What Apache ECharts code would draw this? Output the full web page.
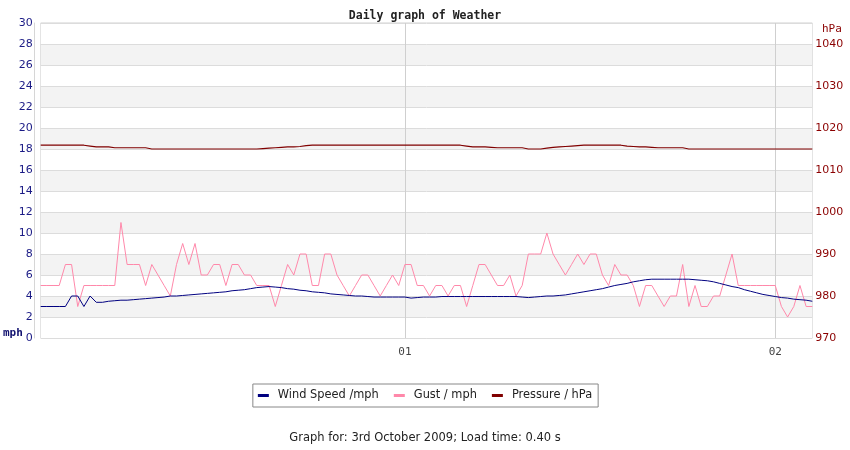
<!DOCTYPE html>
<html>
<head>
<meta charset="utf-8">
<script src="https://cdn.jsdelivr.net/npm/echarts@6/dist/echarts.min.js"></script>
<style>
  html, body { margin: 0; padding: 0; background: #fff; }
  #chart { width: 850px; height: 450px; }
</style>
</head>
<body>
<div id="chart"></div>
<script>
// ---- data (one reading per minute, first reading at minute 1) ----
const startMinute = 1;

const windSpeed = [
  3, 3, 3, 3, 3, 4, 4, 3, 4, 3.4,
  3.4, 3.5, 3.55, 3.6, 3.6, 3.65, 3.7, 3.75, 3.8, 3.85,
  3.9, 4.0, 4.0, 4.05, 4.1, 4.15, 4.2, 4.25, 4.3, 4.35,
  4.4, 4.5, 4.55, 4.6, 4.7, 4.8, 4.85, 4.9, 4.85, 4.8,
  4.7, 4.65, 4.55, 4.5, 4.4, 4.35, 4.3, 4.2, 4.15, 4.1,
  4.05, 4.0, 4.0, 3.95, 3.9, 3.9, 3.9, 3.9, 3.9, 3.9,
  3.8, 3.85, 3.9, 3.9, 3.9, 3.95, 3.95, 3.95, 3.95, 3.95,
  3.95, 3.95, 3.95, 3.95, 3.95, 3.95, 3.95, 3.95, 3.9, 3.85,
  3.9, 3.95, 4.0, 4.0, 4.05, 4.1, 4.2, 4.3, 4.4, 4.5,
  4.6, 4.7, 4.85, 5.0, 5.1, 5.2, 5.35, 5.45, 5.55, 5.6,
  5.6, 5.6, 5.6, 5.6, 5.6, 5.6, 5.55, 5.5, 5.45, 5.35,
  5.2, 5.05, 4.9, 4.8, 4.6, 4.45, 4.3, 4.15, 4.05, 3.95,
  3.85, 3.8, 3.7, 3.65, 3.6, 3.5
];

const gust = [
  5, 5, 5, 5, 7, 7, 3, 5, 5, 5,
  5, 5, 5, 11, 7, 7, 7, 5, 7, 6,
  5, 4, 7, 9, 7, 9, 6, 6, 7, 7,
  5, 7, 7, 6, 6, 5, 5, 5, 3, 5,
  7, 6, 8, 8, 5, 5, 8, 8, 6, 5,
  4, 5, 6, 6, 5, 4, 5, 6, 5, 7,
  7, 5, 5, 4, 5, 5, 4, 5, 5, 3,
  5, 7, 7, 6, 5, 5, 6, 4, 5, 8,
  8, 8, 10, 8, 7, 6, 7, 8, 7, 8,
  8, 6, 5, 7, 6, 6, 5, 3, 5, 5,
  4, 3, 4, 4, 7, 3, 5, 3, 3, 4,
  4, 6, 8, 5, 5, 5, 5, 5, 5, 5,
  3, 2, 3, 5, 3, 3
];

const pressure = [
  1015.9, 1015.9, 1015.9, 1015.9, 1015.9, 1015.9, 1015.9, 1015.9, 1015.7, 1015.5,
  1015.5, 1015.5, 1015.3, 1015.3, 1015.3, 1015.3, 1015.3, 1015.3, 1015.0, 1015.0,
  1015.0, 1015.0, 1015.0, 1015.0, 1015.0, 1015.0, 1015.0, 1015.0, 1015.0, 1015.0,
  1015.0, 1015.0, 1015.0, 1015.0, 1015.0, 1015.0, 1015.1, 1015.2, 1015.3, 1015.4,
  1015.5, 1015.5, 1015.6, 1015.8, 1015.9, 1015.9, 1015.9, 1015.9, 1015.9, 1015.9,
  1015.9, 1015.9, 1015.9, 1015.9, 1015.9, 1015.9, 1015.9, 1015.9, 1015.9, 1015.9,
  1015.9, 1015.9, 1015.9, 1015.9, 1015.9, 1015.9, 1015.9, 1015.9, 1015.9, 1015.7,
  1015.5, 1015.5, 1015.5, 1015.4, 1015.3, 1015.3, 1015.3, 1015.3, 1015.3, 1015.0,
  1015.0, 1015.0, 1015.2, 1015.4, 1015.5, 1015.6, 1015.7, 1015.8, 1015.9, 1015.9,
  1015.9, 1015.9, 1015.9, 1015.9, 1015.9, 1015.7, 1015.6, 1015.5, 1015.5, 1015.4,
  1015.3, 1015.3, 1015.3, 1015.3, 1015.3, 1015.0, 1015.0, 1015.0, 1015.0, 1015.0,
  1015.0, 1015.0, 1015.0, 1015.0, 1015.0, 1015.0, 1015.0, 1015.0, 1015.0, 1015.0,
  1015.0, 1015.0, 1015.0, 1015.0, 1015.0, 1015.0
];

// hour ticks on the time axis (minutes) and their labels
const hourTicks = [60, 120];
const hourLabels = ['01', '02'];

const seriesNames = ['Wind Speed /mph', 'Gust / mph', 'Pressure / hPa'];

// ---- chart ----
const withTime = arr => arr.map((v, i) => [startMinute + i, v]);
const lastMinute = startMinute + windSpeed.length - 1;

const chart = echarts.init(document.getElementById('chart'));

chart.setOption({
  animation: false,
  backgroundColor: '#fff',
  textStyle: { fontFamily: 'DejaVu Sans' },
  title: {
    text: 'Daily graph of Weather',
    left: 'center',
    top: 5,
    textStyle: {
      fontFamily: 'DejaVu Sans Mono',
      fontWeight: 'bold',
      fontSize: 11.5,
      color: '#222'
    }
  },
  legend: {
    data: seriesNames,
    bottom: 43,
    left: 'center',
    orient: 'horizontal',
    icon: 'rect',
    itemWidth: 11,
    itemHeight: 3,
    itemGap: 15,
    padding: [6, 6, 6, 5],
    borderColor: '#888',
    borderWidth: 1,
    textStyle: {
      fontFamily: 'DejaVu Sans',
      fontSize: 11.4,
      color: '#222',
      padding: [0, 0, 0, 4]
    }
  },
  grid: {
    left: 40.7,
    right: 37.7,
    top: 23,
    bottom: 112,
    show: true,
    borderColor: '#d0d0d0',
    borderWidth: 1,
    backgroundColor: 'transparent'
  },
  xAxis: {
    type: 'value',
    min: startMinute,
    max: lastMinute,
    axisLine: { show: false },
    axisTick: { show: false, customValues: hourTicks },
    axisLabel: {
      customValues: hourTicks,
      margin: 9,
      fontFamily: 'DejaVu Sans Mono',
      fontSize: 11,
      color: '#444',
      formatter: v => hourLabels[hourTicks.indexOf(v)] || ''
    },
    splitLine: { show: true, lineStyle: { color: '#cfcfcf', width: 1 } }
  },
  yAxis: [
    {
      type: 'value',
      position: 'left',
      min: 0,
      max: 30,
      interval: 2,
      offset: 6,
      axisLine: { show: true, lineStyle: { color: '#d6d6d6' } },
      axisTick: { show: false },
      axisLabel: {
        margin: 2,
        fontFamily: 'DejaVu Sans',
        fontSize: 11,
        color: '#1a1a85'
      },
      splitLine: { show: true, lineStyle: { color: '#dcdcdc' } },
      splitArea: { show: true, areaStyle: { color: ['#ffffff', '#f3f3f3'] } }
    },
    {
      type: 'value',
      position: 'right',
      min: 970,
      max: 1045,
      interval: 10,
      axisLine: { show: false },
      axisTick: { show: false },
      axisLabel: {
        margin: 3,
        fontFamily: 'DejaVu Sans',
        fontSize: 11,
        color: '#8b0000',
        formatter: v => (v % 10 === 0 ? String(v) : '')
      },
      splitLine: { show: false }
    }
  ],
  graphic: [
    {
      type: 'text',
      left: 3,
      top: 328,
      style: {
        text: 'mph',
        font: 'bold 11px "DejaVu Sans Mono"',
        fill: '#10106e'
      }
    },
    {
      type: 'text',
      left: 822,
      top: 24,
      style: {
        text: 'hPa',
        font: '11px "DejaVu Sans Mono"',
        fill: '#8b0000'
      }
    },
    {
      type: 'text',
      left: 'center',
      top: 432,
      style: {
        text: 'Graph for: 3rd October 2009; Load time: 0.40 s',
        font: '11.5px "DejaVu Sans"',
        fill: '#222'
      }
    }
  ],
  series: [
    {
      name: seriesNames[0],
      type: 'line',
      yAxisIndex: 0,
      data: withTime(windSpeed),
      showSymbol: false,
      lineStyle: { color: '#000080', width: 1 },
      itemStyle: { color: '#000080' },
      z: 3
    },
    {
      name: seriesNames[1],
      type: 'line',
      yAxisIndex: 0,
      data: withTime(gust),
      showSymbol: false,
      lineStyle: { color: '#ff88aa', width: 1 },
      itemStyle: { color: '#ff88aa' },
      z: 2
    },
    {
      name: seriesNames[2],
      type: 'line',
      yAxisIndex: 1,
      data: withTime(pressure),
      showSymbol: false,
      lineStyle: { color: '#800000', width: 1.2 },
      itemStyle: { color: '#800000' },
      z: 4
    }
  ]
});
</script>
</body>
</html>
